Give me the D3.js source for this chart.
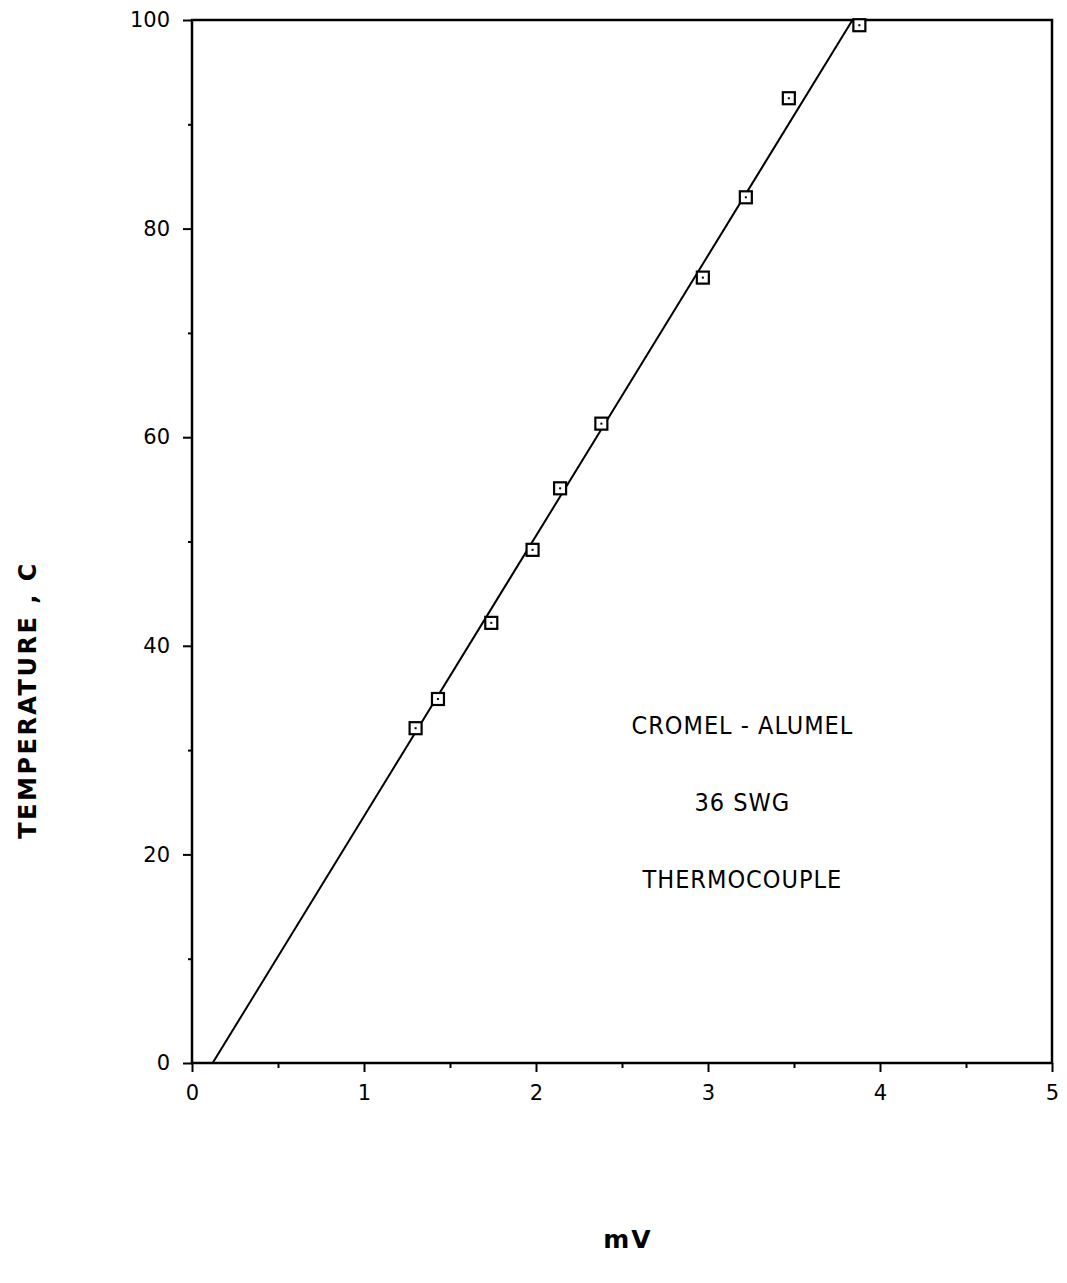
<!DOCTYPE html>
<html>
<head>
<meta charset="utf-8">
<script src="https://cdn.jsdelivr.net/npm/d3@7"></script>
<style>
  body { margin: 0; background: #fff; }
  svg text { fill: #000; }
</style>
</head>
<body>
<svg id="chart" width="1067" height="1283"></svg>
<script>
// measured points (mV, temperature C)
var mv = [1.30, 1.43, 1.74, 1.98, 2.14, 2.38, 2.97, 3.22, 3.47, 3.88];
var temp = [32.1, 34.9, 42.2, 49.2, 55.1, 61.3, 75.3, 83.0, 92.5, 99.5];
// fitted line end points
var fitMv = [0.12, 3.84];
var fitTemp = [0, 100];
var xTicks = [0, 1, 2, 3, 4, 5];
var yTicks = [0, 20, 40, 60, 80, 100];
var notes = ["CROMEL - ALUMEL", "36 SWG", "THERMOCOUPLE"];
var noteTemp = [31.5, 24.2, 16.8];

var svg = d3.select("#chart");
var margin = {top: 20, left: 192, bottom: 220, right: 15};
var width = 1067, height = 1283;

var x = d3.scaleLinear().domain([0, 5]).range([margin.left, width - margin.right]);
var y = d3.scaleLinear().domain([0, 100]).range([height - margin.bottom, margin.top]);

var tickFont = "'DejaVu Sans', sans-serif";

// frame
svg.append("rect")
    .attr("x", x(0)).attr("y", y(100))
    .attr("width", x(5) - x(0)).attr("height", y(0) - y(100))
    .attr("fill", "none").attr("stroke", "#000").attr("stroke-width", 2.5);

// x axis
var xAxis = svg.append("g")
    .attr("transform", `translate(0,${y(0)})`)
    .call(d3.axisBottom(x).tickValues(xTicks).tickSize(9).tickFormat(d3.format("d")));
xAxis.select(".domain").remove();
xAxis.selectAll("line").attr("stroke-width", 2);
xAxis.selectAll("text")
    .attr("dy", "0")
    .attr("y", 37)
    .style("font-family", tickFont).style("font-size", "21px");
svg.append("g")
    .attr("transform", `translate(0,${y(0)})`)
    .call(d3.axisBottom(x).tickValues(d3.range(0.5, 5, 1)).tickSize(5).tickFormat(""))
    .call(g => g.select(".domain").remove())
    .selectAll("line").attr("stroke-width", 2);

// y axis
var yAxis = svg.append("g")
    .attr("transform", `translate(${x(0)},0)`)
    .call(d3.axisLeft(y).tickValues(yTicks).tickSize(9).tickFormat(d3.format("d")));
yAxis.select(".domain").remove();
yAxis.selectAll("line").attr("stroke-width", 2);
yAxis.selectAll("text")
    .attr("x", -22)
    .style("font-family", tickFont).style("font-size", "21px");
svg.append("g")
    .attr("transform", `translate(${x(0)},0)`)
    .call(d3.axisLeft(y).tickValues(d3.range(10, 100, 20)).tickSize(4).tickFormat(""))
    .call(g => g.select(".domain").remove())
    .selectAll("line").attr("stroke-width", 2);

// fitted line
var line = d3.line().x(d => x(d[0])).y(d => y(d[1]));
svg.append("path")
    .datum(d3.zip(fitMv, fitTemp))
    .attr("d", line)
    .attr("fill", "none").attr("stroke", "#000").attr("stroke-width", 2);

// square markers
var pts = d3.zip(mv, temp);
svg.selectAll("rect.pt")
    .data(pts)
  .enter().append("rect")
    .attr("class", "pt")
    .attr("x", d => x(d[0]) - 6)
    .attr("y", d => y(d[1]) - 6)
    .attr("width", 12).attr("height", 12)
    .attr("fill", "#fff").attr("stroke", "#000").attr("stroke-width", 2.2);
svg.selectAll("rect.dot")
    .data(pts)
  .enter().append("rect")
    .attr("class", "dot")
    .attr("x", d => x(d[0]) - 1)
    .attr("y", d => y(d[1]) - 1)
    .attr("width", 2).attr("height", 2)
    .attr("fill", "#000");

// annotation
svg.selectAll("text.note")
    .data(notes)
  .enter().append("text")
    .attr("class", "note")
    .attr("x", x(3.2))
    .attr("y", (d, i) => y(noteTemp[i]))
    .attr("text-anchor", "middle")
    .style("font-family", "'Liberation Sans Narrow', 'DejaVu Sans Condensed', sans-serif")
    .style("font-stretch", "condensed")
    .style("font-size", "25px")
    .style("letter-spacing", "1px")
    .text(d => d);

// axis titles
svg.append("text")
    .attr("x", 628).attr("y", 1248)
    .attr("text-anchor", "middle")
    .style("font-family", tickFont).style("font-weight", "bold")
    .style("font-size", "25px")
    .style("letter-spacing", "2px")
    .text("mV");

svg.append("text")
    .attr("transform", `translate(36,${700}) rotate(-90)`)
    .attr("text-anchor", "middle")
    .style("font-family", tickFont).style("font-weight", "bold")
    .style("font-size", "24px")
    .style("letter-spacing", "2.5px")
    .text("TEMPERATURE , C");
</script>
</body>
</html>
